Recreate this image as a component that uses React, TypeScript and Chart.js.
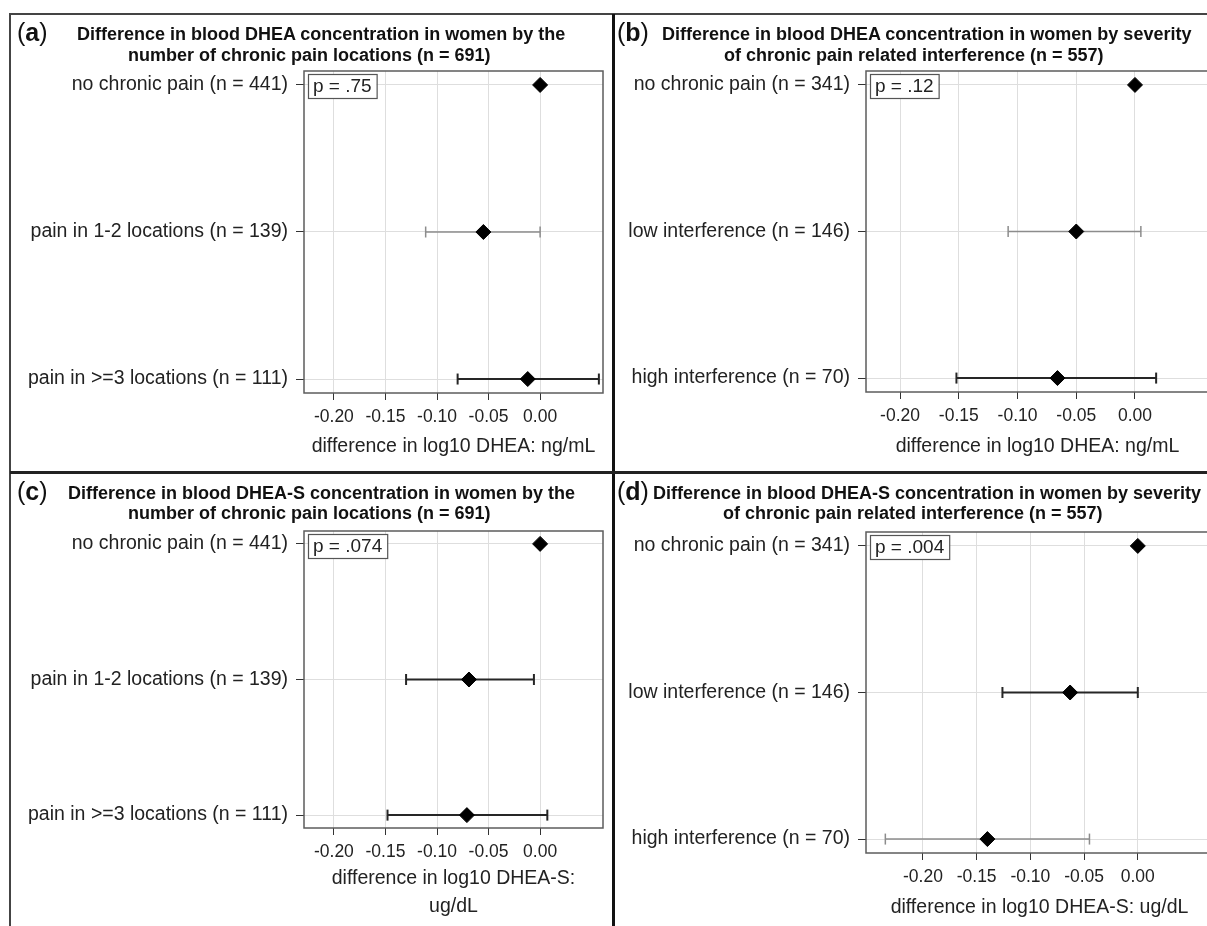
import React, { useEffect, useRef } from "react";
import { Chart, registerables } from "chart.js";

Chart.register(...registerables);

const FONT = '"Liberation Sans", Arial, Helvetica, sans-serif';

// ---------- data ----------
const painLocationRows = [
  "no chronic pain (n = 441)",
  "pain in 1-2 locations (n = 139)",
  "pain in >=3 locations (n = 111)",
];
const interferenceRows = [
  "no chronic pain (n = 341)",
  "low interference (n = 146)",
  "high interference (n = 70)",
];
const rowPositions = [0, 1, 2];
const xTickValues = [-0.2, -0.15, -0.1, -0.05, 0.0];

// (a) DHEA by number of pain locations
const dheaLocEstimate = [0, -0.055, -0.012];
const dheaLocLower = [null, -0.111, -0.08];
const dheaLocUpper = [null, 0.0, 0.057];
// (b) DHEA by interference
const dheaIntEstimate = [0, -0.05, -0.066];
const dheaIntLower = [null, -0.108, -0.152];
const dheaIntUpper = [null, 0.005, 0.018];
// (c) DHEA-S by number of pain locations
const dheasLocEstimate = [0, -0.069, -0.071];
const dheasLocLower = [null, -0.13, -0.148];
const dheasLocUpper = [null, -0.006, 0.007];
// (d) DHEA-S by interference
const dheasIntEstimate = [0, -0.063, -0.14];
const dheasIntLower = [null, -0.126, -0.235];
const dheasIntUpper = [null, 0.0, -0.045];

const pValueTexts = ["p = .75", "p = .12", "p = .074", "p = .004"];
const panelLetters = ["a", "b", "c", "d"];
const panelTitles = [
  ["Difference in blood DHEA concentration in women by the", "number of chronic pain locations (n = 691)"],
  ["Difference in blood DHEA concentration in women by severity", "of chronic pain related interference (n = 557)"],
  ["Difference in blood DHEA-S concentration in women by the", "number of chronic pain locations (n = 691)"],
  ["Difference in blood DHEA-S concentration in women by severity", "of chronic pain related interference (n = 557)"],
];
const axisTitles: (string | string[])[] = [
  "difference in log10 DHEA: ng/mL",
  "difference in log10 DHEA: ng/mL",
  ["difference in log10 DHEA-S:", "ug/dL"],
  "difference in log10 DHEA-S: ug/dL",
];

// ---------- styles / layout ----------
const DARK = "#262626";
const GRAY = "#8c8c8c";

const panels = [
  {
    rows: painLocationRows, est: dheaLocEstimate, lo: dheaLocLower, hi: dheaLocUpper,
    p: pValueTexts[0], letter: panelLetters[0], title: panelTitles[0], axisTitle: axisTitles[0],
    canvas: { x: 10, y: 14, w: 604, h: 458 }, area: { l: 304, t: 71, r: 603, b: 393 },
    xMin: -0.229, xMax: 0.061, axisTitleY: 447, axisLineHeight: 23.4,
    ciColors: [null, GRAY, DARK], letterPos: { x: 17, y: 32 }, titleLeft: [77, 128], titleY: [34, 55],
  },
  {
    rows: interferenceRows, est: dheaIntEstimate, lo: dheaIntLower, hi: dheaIntUpper,
    p: pValueTexts[1], letter: panelLetters[1], title: panelTitles[1], axisTitle: axisTitles[1],
    canvas: { x: 614, y: 14, w: 626, h: 458 }, area: { l: 866, t: 71, r: 1209, b: 392 },
    xMin: -0.229, xMax: 0.063, axisTitleY: 447, axisLineHeight: 23.4,
    ciColors: [null, GRAY, DARK], letterPos: { x: 617, y: 32 }, titleLeft: [662, 724], titleY: [34, 55],
  },
  {
    rows: painLocationRows, est: dheasLocEstimate, lo: dheasLocLower, hi: dheasLocUpper,
    p: pValueTexts[2], letter: panelLetters[2], title: panelTitles[2], axisTitle: axisTitles[2],
    canvas: { x: 10, y: 472, w: 604, h: 454 }, area: { l: 304, t: 531, r: 603, b: 828 },
    xMin: -0.229, xMax: 0.061, axisTitleY: 879, axisLineHeight: 28,
    ciColors: [null, DARK, DARK], letterPos: { x: 17, y: 491 }, titleLeft: [68, 128], titleY: [493, 513],
  },
  {
    rows: interferenceRows, est: dheasIntEstimate, lo: dheasIntLower, hi: dheasIntUpper,
    p: pValueTexts[3], letter: panelLetters[3], title: panelTitles[3], axisTitle: axisTitles[3],
    canvas: { x: 614, y: 472, w: 626, h: 454 }, area: { l: 866, t: 532, r: 1213, b: 853 },
    xMin: -0.253, xMax: 0.07, axisTitleY: 908, axisLineHeight: 23.4,
    ciColors: [null, DARK, GRAY], letterPos: { x: 617, y: 491 }, titleLeft: [653, 723], titleY: [493, 513],
  },
];

type PanelCfg = (typeof panels)[number];

function ForestPanel({ cfg }: { cfg: PanelCfg }) {
  const ref = useRef<HTMLCanvasElement>(null);

  useEffect(() => {
    const canvas = ref.current;
    if (!canvas) return;
    const padTop = cfg.area.t - cfg.canvas.y;
    const yAxisWidth = cfg.area.l - cfg.canvas.x;
    const padRight = cfg.canvas.x + cfg.canvas.w - cfg.area.r;
    const xAxisHeight = cfg.canvas.y + cfg.canvas.h - cfg.area.b;
    const nTitleLines = Array.isArray(cfg.axisTitle) ? cfg.axisTitle.length : 1;
    const lh = cfg.axisLineHeight;
    const titlePadBottom =
      cfg.canvas.h - (cfg.axisTitleY - cfg.canvas.y) - lh / 2 - lh * (nTitleLines - 1);

    const datasets: any[] = [];
    datasets.push({
      label: "estimate",
      data: cfg.est.map((v, i) => ({ x: v, y: rowPositions[i] })),
      pointStyle: "rectRot",
      pointRadius: 7.5,
      pointBackgroundColor: "#000",
      pointBorderColor: "#000",
      pointBorderWidth: 1,
      showLine: false,
    });
    cfg.lo.forEach((lo, i) => {
      if (lo === null || cfg.hi[i] === null) return;
      const color = cfg.ciColors[i] as string;
      const w = color === GRAY ? 1.5 : 2;
      datasets.push({
        label: "ci" + i,
        data: [
          { x: lo, y: rowPositions[i] },
          { x: cfg.hi[i], y: rowPositions[i] },
        ],
        showLine: true,
        borderColor: color,
        borderWidth: w,
        pointStyle: "line",
        pointRotation: 90,
        pointRadius: 5.5,
        pointBorderColor: color,
        pointBackgroundColor: color,
        pointBorderWidth: w,
      });
    });

    const framePlugin = {
      id: "plotFrame",
      beforeDatasetsDraw(chart: any) {
        const { ctx, chartArea: a } = chart;
        ctx.save();
        // p-value box
        ctx.font = `19px ${FONT}`;
        const tw = ctx.measureText(cfg.p).width;
        const bx = a.left + 4;
        const by = a.top + 3;
        const bw = tw + 10;
        const bh = 24;
        ctx.fillStyle = "#fff";
        ctx.fillRect(bx, by, bw, bh);
        ctx.strokeStyle = "#555";
        ctx.lineWidth = 1.2;
        ctx.strokeRect(bx + 0.5, by + 0.5, bw, bh);
        ctx.fillStyle = "#222";
        ctx.textBaseline = "middle";
        ctx.textAlign = "left";
        ctx.fillText(cfg.p, bx + 5, by + bh / 2 + 1);
        // plot frame
        ctx.strokeStyle = "#5c5c5c";
        ctx.lineWidth = 1.5;
        ctx.strokeRect(a.left, a.top, a.right - a.left, a.bottom - a.top);
        ctx.restore();
      },
    };

    const chart = new Chart(canvas, {
      type: "scatter",
      data: { datasets },
      options: {
        animation: false,
        responsive: false,
        maintainAspectRatio: false,
        events: [],
        layout: { padding: { top: padTop, right: padRight, left: 0, bottom: 0 } },
        plugins: {
          legend: { display: false },
          tooltip: { enabled: false },
          title: { display: false },
        },
        scales: {
          x: {
            type: "linear",
            min: cfg.xMin,
            max: cfg.xMax,
            afterBuildTicks: (s: any) => {
              s.ticks = xTickValues.map((v) => ({ value: v }));
            },
            afterFit: (s: any) => {
              s.height = xAxisHeight;
            },
            ticks: {
              callback: (v: any) => Number(v).toFixed(2),
              font: { family: FONT, size: 17.5 },
              color: "#222",
              padding: 7,
              maxRotation: 0,
              autoSkip: false,
            },
            grid: { color: "#dedede", tickColor: "#333", tickLength: 7, lineWidth: 1 },
            border: { display: false },
            title: {
              display: true,
              text: cfg.axisTitle as any,
              font: { family: FONT, size: 19.5, lineHeight: lh / 19.5 },
              color: "#222",
              padding: { top: 0, bottom: titlePadBottom },
            },
          },
          y: {
            type: "linear",
            reverse: true,
            min: -0.095,
            max: 2.095,
            afterBuildTicks: (s: any) => {
              s.ticks = rowPositions.map((v) => ({ value: v }));
            },
            afterFit: (s: any) => {
              s.width = yAxisWidth;
            },
            ticks: {
              callback: (v: any) => cfg.rows[Number(v)] ?? "",
              font: { family: FONT, size: 19.5 },
              color: "#222",
              padding: 8,
              autoSkip: false,
            },
            grid: { color: "#dedede", tickColor: "#333", tickLength: 8, lineWidth: 1 },
            border: { display: false },
          },
        },
      } as any,
      plugins: [framePlugin],
    });
    return () => chart.destroy();
  }, [cfg]);

  return (
    <>
      <canvas
        ref={ref}
        width={cfg.canvas.w}
        height={cfg.canvas.h}
        style={{ position: "absolute", left: cfg.canvas.x, top: cfg.canvas.y, width: cfg.canvas.w, height: cfg.canvas.h }}
      />
      <div
        style={{
          position: "absolute",
          left: cfg.letterPos.x,
          top: cfg.letterPos.y - 15,
          fontFamily: FONT,
          fontSize: 25,
          lineHeight: "30px",
          color: "#111",
          whiteSpace: "nowrap",
        }}
      >
        (<b>{cfg.letter}</b>)
      </div>
      {cfg.title.map((line, i) => (
        <div
          key={i}
          style={{
            position: "absolute",
            left: cfg.titleLeft[i],
            top: cfg.titleY[i] - 11,
            fontFamily: FONT,
            fontSize: 18,
            fontWeight: "bold",
            lineHeight: "22px",
            color: "#111",
            whiteSpace: "nowrap",
          }}
        >
          {line}
        </div>
      ))}
    </>
  );
}

export default function App() {
  return (
    <div
      style={{
        position: "fixed",
        left: 0,
        top: 0,
        width: 1207,
        height: 926,
        overflow: "hidden",
        background: "#fff",
      }}
    >
      {panels.map((p, i) => (
        <ForestPanel key={i} cfg={p} />
      ))}
      {/* figure frame */}
      <div style={{ position: "absolute", left: 9, top: 13, width: 1220, height: 2, background: "#444" }} />
      <div style={{ position: "absolute", left: 9, top: 13, width: 2, height: 940, background: "#444" }} />
      <div style={{ position: "absolute", left: 612, top: 14, width: 3, height: 940, background: "#111" }} />
      <div style={{ position: "absolute", left: 10, top: 471, width: 1220, height: 2.5, background: "#222" }} />
    </div>
  );
}
